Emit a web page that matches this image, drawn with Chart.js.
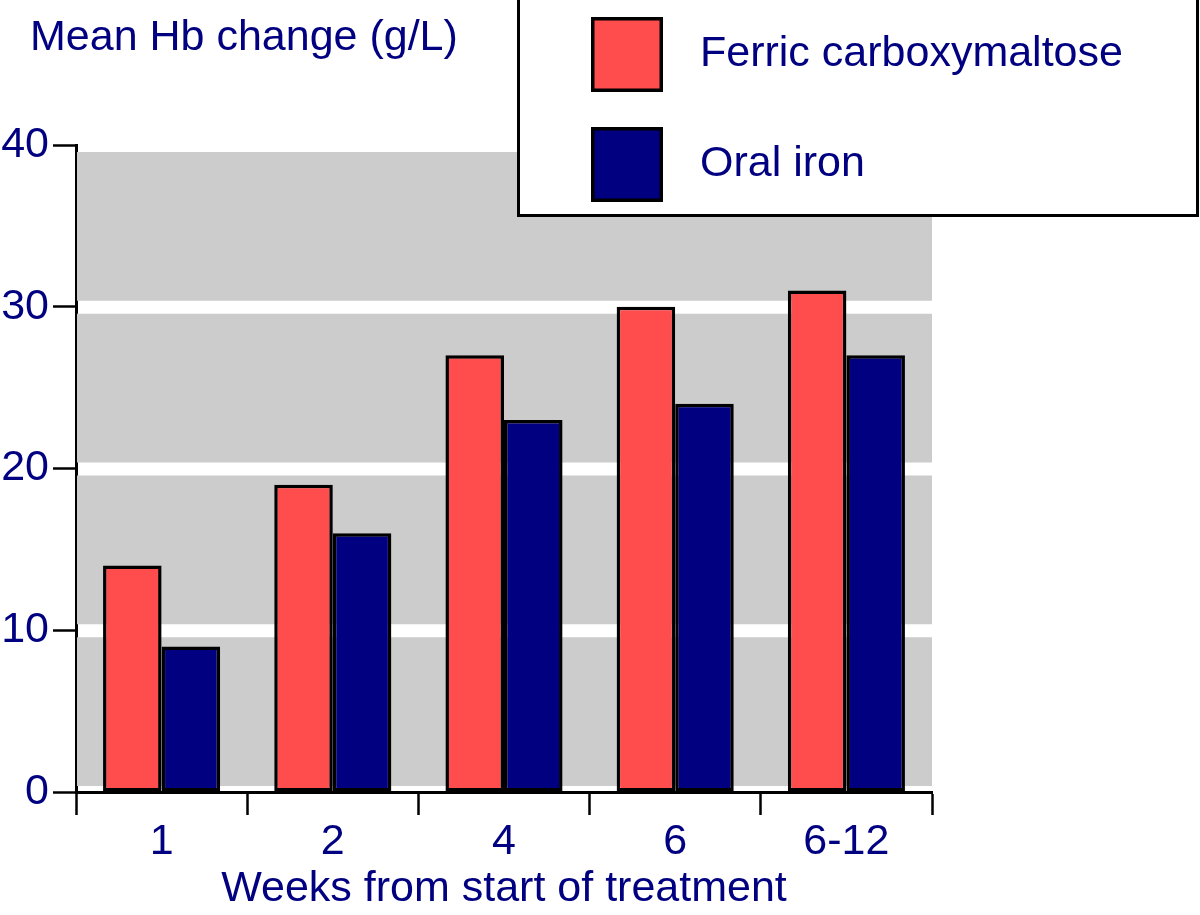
<!DOCTYPE html>
<html>
<head>
<meta charset="utf-8">
<script src="https://cdn.jsdelivr.net/npm/chart.js@4/dist/chart.umd.min.js"></script>
<style>
html,body{margin:0;padding:0;background:#fff;}
#wrap{width:1200px;height:915px;position:relative;}
</style>
</head>
<body>
<div id="wrap"><canvas id="c" width="1200" height="915"></canvas></div>
<script>
const categories = ["1", "2", "4", "6", "6-12"];
const ferricValues = [14, 19, 27, 30, 31];
const oralValues = [9, 16, 23, 24, 27];
const seriesNames = ["Ferric carboxymaltose", "Oral iron"];
const yTicks = [0, 10, 20, 30, 40];
const yTitle = "Mean Hb change (g/L)";
const xTitle = "Weeks from start of treatment";

const NAVY = "#000080";
const RED = "#FF4D4D";
const GRAY = "#CCCCCC";
const FONT = "'Liberation Sans', Arial, Helvetica, sans-serif";
const FS = 43;

const bgPlugin = {
  id: "bgPlugin",
  beforeDraw(chart) {
    const ctx = chart.ctx;
    ctx.save();
    ctx.fillStyle = "#fff";
    ctx.fillRect(0, 0, chart.width, chart.height);
    ctx.restore();
  },
  beforeDatasetsDraw(chart) {
    const {ctx, chartArea: a} = chart;
    const y = chart.scales.y;
    ctx.save();
    ctx.fillStyle = GRAY;
    for (let i = 0; i < yTicks.length - 1; i++) {
      const top = y.getPixelForValue(yTicks[i + 1]) + 7;
      const bot = y.getPixelForValue(yTicks[i]) - 6;
      ctx.fillRect(a.left + 1, top, a.right - a.left - 1, bot - top);
    }
    ctx.restore();
  },
  afterDraw(chart) {
    const ctx = chart.ctx;
    ctx.save();
    ctx.fillStyle = NAVY;
    ctx.font = FS + "px " + FONT;
    ctx.textBaseline = "middle";
    ctx.textAlign = "left";
    ctx.fillText(yTitle, 30, 38);
    ctx.fillStyle = "#fff";
    ctx.fillRect(517, 0, 681, 216);
    ctx.lineWidth = 3;
    ctx.strokeStyle = "#000";
    ctx.strokeRect(518.5, -2, 679, 217.5);
    chart.data.datasets.forEach((ds, i) => {
      const y0 = 17 + i * 110;
      ctx.fillStyle = ds.backgroundColor;
      ctx.fillRect(591, y0, 72, 75);
      ctx.lineWidth = 3.5;
      ctx.strokeStyle = "#000";
      ctx.strokeRect(592.75, y0 + 1.75, 68.5, 71.5);
      ctx.fillStyle = NAVY;
      ctx.font = FS + "px " + FONT;
      ctx.textBaseline = "middle";
      ctx.fillText(ds.label, 700, y0 + 37);
    });
    ctx.restore();
  }
};

new Chart(document.getElementById("c"), {
  type: "bar",
  data: {
    labels: categories,
    datasets: [
      {label: seriesNames[0], data: ferricValues, backgroundColor: RED, borderColor: "#000", borderWidth: 3.5, borderSkipped: false},
      {label: seriesNames[1], data: oralValues, backgroundColor: NAVY, borderColor: "#000", borderWidth: 3.5, borderSkipped: false}
    ]
  },
  options: {
    responsive: false,
    animation: false,
    devicePixelRatio: 1,
    layout: {padding: {top: 145, right: 268, left: 0, bottom: 0}},
    plugins: {legend: {display: false}, tooltip: {enabled: false}, title: {display: false}},
    datasets: {bar: {barPercentage: 1, categoryPercentage: 0.684}},
    scales: {
      x: {
        afterFit(s) { s.height = 123; },
        grid: {display: true, offset: true, drawOnChartArea: false, drawTicks: true, tickLength: 23, tickColor: "#000", tickWidth: 2.5},
        border: {display: true, color: "#000", width: 3, z: 2},
        ticks: {color: NAVY, font: {family: FONT, size: FS}, padding: 1, maxRotation: 0},
        title: {display: true, text: xTitle, color: NAVY, font: {family: FONT, size: FS}, padding: {top: 0, bottom: 0}}
      },
      y: {
        min: 0, max: 40,
        afterFit(s) { s.width = 76; },
        afterBuildTicks(s) { s.ticks = yTicks.map(v => ({value: v})); },
        grid: {drawOnChartArea: false, drawTicks: true, tickLength: 23, tickColor: "#000", tickWidth: 2.5},
        border: {display: true, color: "#000", width: 3},
        ticks: {color: NAVY, font: {family: FONT, size: FS}, padding: 4}
      }
    }
  },
  plugins: [bgPlugin]
});
</script>
</body>
</html>
